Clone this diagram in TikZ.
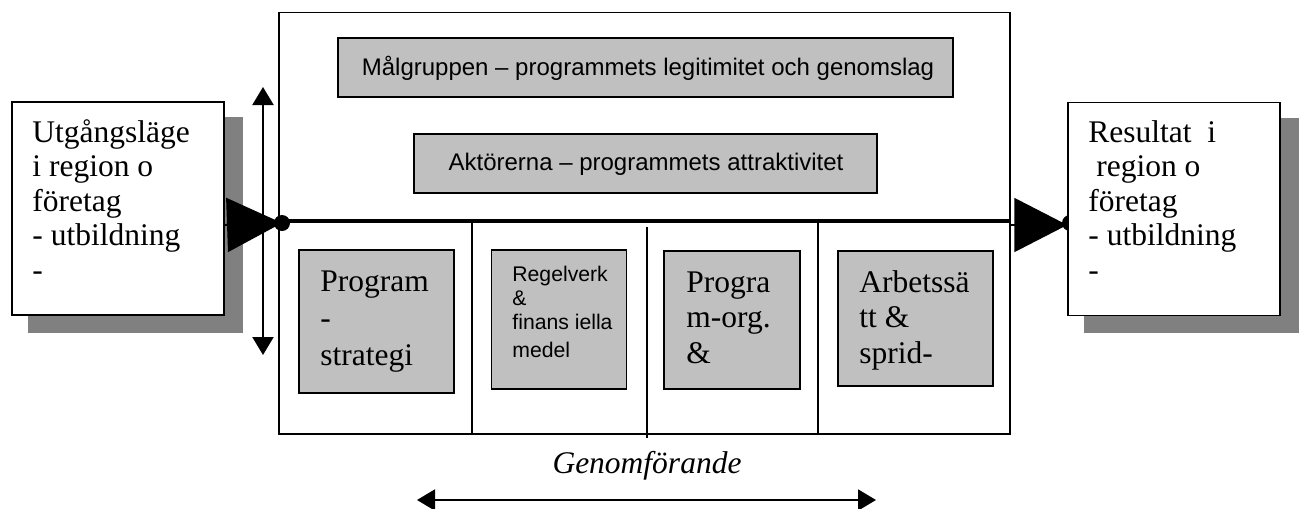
\documentclass[tikz,border=0pt]{standalone}
\usepackage{fontspec}
\setmainfont{Liberation Serif}
\setsansfont{Liberation Sans}
\usetikzlibrary{arrows.meta}
\definecolor{boxgray}{HTML}{C0C0C0}
\definecolor{shadowgray}{HTML}{808080}
\begin{document}
\begin{tikzpicture}[x=0.5pt,y=-0.5pt,
  graybox/.style={draw,line width=0.75pt,fill=boxgray,inner sep=0pt},
  whitebox/.style={draw,line width=0.75pt,fill=white,inner sep=0pt,minimum width=106pt,minimum height=106.5pt},
  sertext/.style={font={\fontsize{15.75pt}{17.25pt}\selectfont},align=left,inner sep=0pt,anchor=north west},
  innertext/.style={font={\fontsize{15.75pt}{17.75pt}\selectfont},align=left,inner sep=0pt,anchor=north west},
  sanstext/.style={font={\sffamily\fontsize{10.6pt}{12pt}\selectfont},align=left,inner sep=0pt,anchor=north west},
  bartext/.style={font={\sffamily\fontsize{12pt}{14pt}\selectfont},inner sep=0pt},
  divider/.style={line width=0.75pt},
  dblarrow/.style={line width=1pt,{Triangle[length=9pt,width=10.5pt]}-{Triangle[length=9pt,width=10.5pt]}},
  bigtri/.style={line width=1pt,-{Triangle[length=27pt,width=27pt]}},
  dot/.style={circle,fill=black,inner sep=0pt,minimum size=8pt}
]
\useasboundingbox (0,0) rectangle (1302,509);

% shadows
\fill[shadowgray] (28,117) rectangle (243,333);
\fill[shadowgray] (1084,118) rectangle (1299,333);

% main frame
\node[draw,line width=0.75pt,inner sep=0pt,minimum width=365.5pt,minimum height=210.75pt] (frame) at (644.5,223.25) {};

% dividers
\draw[divider] (472,221) -- (472,434);
\draw[divider] (647,227) -- (647,438);
\draw[divider] (818,221) -- (818,434);

% top gray boxes
\node[graybox,minimum width=307.5pt,minimum height=29.5pt] (malg) at (645.5,67.5) {};
\node[bartext] (malgt) at (648,68) {Målgruppen – programmets legitimitet och genomslag};
\node[graybox,minimum width=231.5pt,minimum height=29.5pt] (aktor) at (645.5,163.5) {};
\node[bartext] (aktort) at (646,164) {Aktörerna – programmets attraktivitet};

% bottom gray boxes
\node[graybox,minimum width=77.5pt,minimum height=71.5pt] (b1) at (376.5,321.5) {};
\node[graybox,minimum width=67.5pt,minimum height=69.5pt] (b2) at (559,319.5) {};
\node[graybox,minimum width=68pt,minimum height=69pt] (b3) at (732,320) {};
\node[graybox,minimum width=77.5pt,minimum height=67.5pt] (b4) at (915.5,318.5) {};

\node[innertext,font={\fontsize{15.75pt}{18.5pt}\selectfont}] (b1t) at (320,263) {\rule{0pt}{14pt}Program\\-\\strategi};
\node[sanstext] (b2t) at (512,261) {\rule{0pt}{10pt}Regelverk\\\&\\finans iella\\[2pt]medel};
\node[innertext] (b3t) at (686,264) {\rule{0pt}{14pt}Progra\\m-org.\\\&};
\node[innertext] (b4t) at (859,264) {\rule{0pt}{14pt}Arbetssä\\tt \&\\sprid-};

% right circle (behind right box)
\node[dot] (rcirc) at (1070,223) {};

% side boxes
\node[whitebox] (lbox) at (118,208.5) {};
\node[whitebox] (rbox) at (1174,209) {};
\node[sertext] (lboxt) at (32,114) {\rule{0pt}{14pt}Utgångsläge\\i region o\\företag\\- utbildning\\-};
\node[sertext] (rboxt) at (1088,114) {\rule{0pt}{14pt}Resultat\ \ i\\\hspace*{0.25em}region o\\företag\\- utbildning\\-};

% joins and triangles
\coordinate (ljoin) at (282,223);
\coordinate (rjoin) at (1011,221);
\draw[bigtri,-{Triangle[length=27.5pt,width=27pt]}] (lbox.east |- 0,225) -- (ljoin);
\draw[bigtri,-{Triangle[length=26.5pt,width=27pt]}] (rjoin |- 0,225) -- (rbox.west |- 0,225);
\draw[line width=1.75pt] (ljoin |- rjoin) -- (rjoin);
\node[dot] (lcirc) at (ljoin) {};

% vertical arrow
\coordinate (vtop) at (263,87);
\coordinate (vbot) at (263,355);
\draw[dblarrow] (vtop) -- (vbot);

% bottom label and arrow
\node[font={\itshape\fontsize{15.75pt}{17.25pt}\selectfont},inner sep=0pt,anchor=base] (gen) at (647,473) {Genomförande};
\coordinate (hleft) at (417,500);
\coordinate (hright) at (876,500);
\draw[dblarrow] (hleft) -- (hright);
\end{tikzpicture}
\end{document}
